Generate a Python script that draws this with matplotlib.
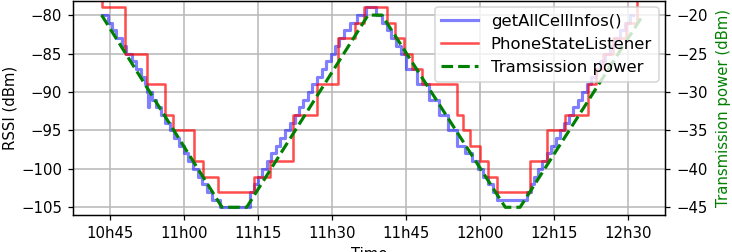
import numpy as np
import matplotlib
matplotlib.use("Agg")
import matplotlib.pyplot as plt
import matplotlib.dates as mdates

# times are minutes after 10h00
day = np.datetime64("2019-01-01T10:00")

# getAllCellInfos() RSSI (dBm), step series
blue_t = [43.3, 44.5, 45.5, 46.3, 47.4, 48.3, 49.4, 50.3, 51.2, 52.0, 52.5, 52.7,
          52.9, 53.5, 54.3, 55.3, 56.2, 57.2, 58.0, 59.0, 60.0, 60.9, 61.8, 62.8,
          63.7, 64.6, 65.6, 67.3, 73.4, 74.2, 75.0, 75.8, 76.8, 77.7, 78.6, 79.5,
          80.5, 81.4, 82.4, 83.3, 84.2, 85.1, 86.0, 87.0, 87.9, 88.8, 89.7, 90.6,
          91.5, 92.5, 93.6, 95.0, 96.8, 99.0, 100.2, 101.2, 102.0, 103.0, 104.0,
          105.0, 107.3, 109.6, 111.6, 113.5, 115.3, 117.0, 118.3, 119.5, 120.6,
          121.6, 122.6, 123.4, 129.5, 130.3, 131.0, 131.8, 132.6, 133.5, 134.4,
          135.3, 136.2, 137.1, 138.0, 138.9, 139.8, 140.7, 141.6, 142.5, 143.4,
          144.3, 145.3, 146.3, 147.3, 148.3, 149.3, 150.3, 151.0]
blue_v = [-80, -81, -82, -83, -84, -85, -86, -87, -88, -89, -90, -92,
          -90, -91, -92, -93, -94, -95, -96, -97, -98, -99, -100, -101,
          -102, -103, -104, -105, -103, -102, -101, -100, -99, -98, -97, -96,
          -95, -94, -93, -92, -91, -90, -89, -88, -87, -86, -85, -84,
          -83, -82, -81, -80, -79, -80, -81, -82, -83, -84, -85,
          -87, -89, -91, -93, -95, -97, -98, -99, -100, -101,
          -102, -103, -104, -103, -102, -101, -100, -99, -98, -97,
          -96, -95, -94, -93, -92, -91, -90, -89, -88, -87,
          -86, -85, -84, -83, -82, -81, -80, -80]

# PhoneStateListener RSSI (dBm), step series
red_t = [43.2, 43.4, 48.0, 52.4, 56.1, 57.8, 62.0, 63.9, 66.9, 74.2, 77.4, 82.1,
         86.9, 91.3, 94.7, 96.4, 101.1, 102.8, 104.5, 106.1, 108.2, 115.3, 116.5,
         118.0, 120.0, 121.7, 123.4, 130.1, 133.5, 137.2, 141.9, 143.5, 145.0,
         147.0, 149.5, 151.8, 152.5]
red_v = [-76, -79, -85, -89, -93, -95, -99, -101, -103, -101, -99, -93,
         -89, -83, -81, -79, -81, -83, -85, -87, -89, -93, -95,
         -97, -99, -101, -103, -99, -95, -93, -89, -87, -85,
         -83, -81, -74, -74]

# transmission power (dBm)
green_t = [43.3, 67.7, 72.7, 97.3, 100.1, 125.1, 128.1, 153.0]
green_v = [-20, -45, -45, -20, -20, -45, -45, -20]


def to_time(mins):
    return day + (np.array(mins) * 60).astype("timedelta64[s]")


plt.rcParams["font.size"] = 9.5

dpi = 113
fig = plt.figure(figsize=(732 / dpi, 252 / dpi), dpi=dpi)
ax = fig.add_axes([0.0997, 0.147, 0.809, 0.851])
ax2 = ax.twinx()

l1, = ax.plot(to_time(blue_t), blue_v, color="blue", alpha=0.5, lw=2,
              drawstyle="steps-post", label="getAllCellInfos()")
l2, = ax.plot(to_time(red_t), red_v, color="red", alpha=0.7, lw=1.6,
              drawstyle="steps-post", label="PhoneStateListener")
l3, = ax2.plot(to_time(green_t), green_v, color="green", lw=2, ls="--",
               label="Tramsission power")

ax.set_xlim(to_time([37.5])[0], to_time([157.5])[0])
ax.set_ylim(-106, -78.1)
ax2.set_ylim(-46, -18.1)
ax.set_yticks(np.arange(-105, -79, 5))
ax2.set_yticks(np.arange(-45, -19, 5))

ax.xaxis.set_major_locator(mdates.MinuteLocator(byminute=[0, 15, 30, 45]))
ax.xaxis.set_major_formatter(mdates.DateFormatter("%Hh%M"))
ax.grid(True, color="#b8b8b8", lw=1)

ax.set_xlabel("Time")
ax.set_ylabel("RSSI (dBm)", labelpad=2)
ax2.set_ylabel("Transmission power (dBm)", color="green", labelpad=5)

ax2.legend(handles=[l1, l2, l3], loc="upper right", fontsize=10.5,
           borderaxespad=0.4, handlelength=2.2)

fig.savefig("out.png", dpi=dpi)
